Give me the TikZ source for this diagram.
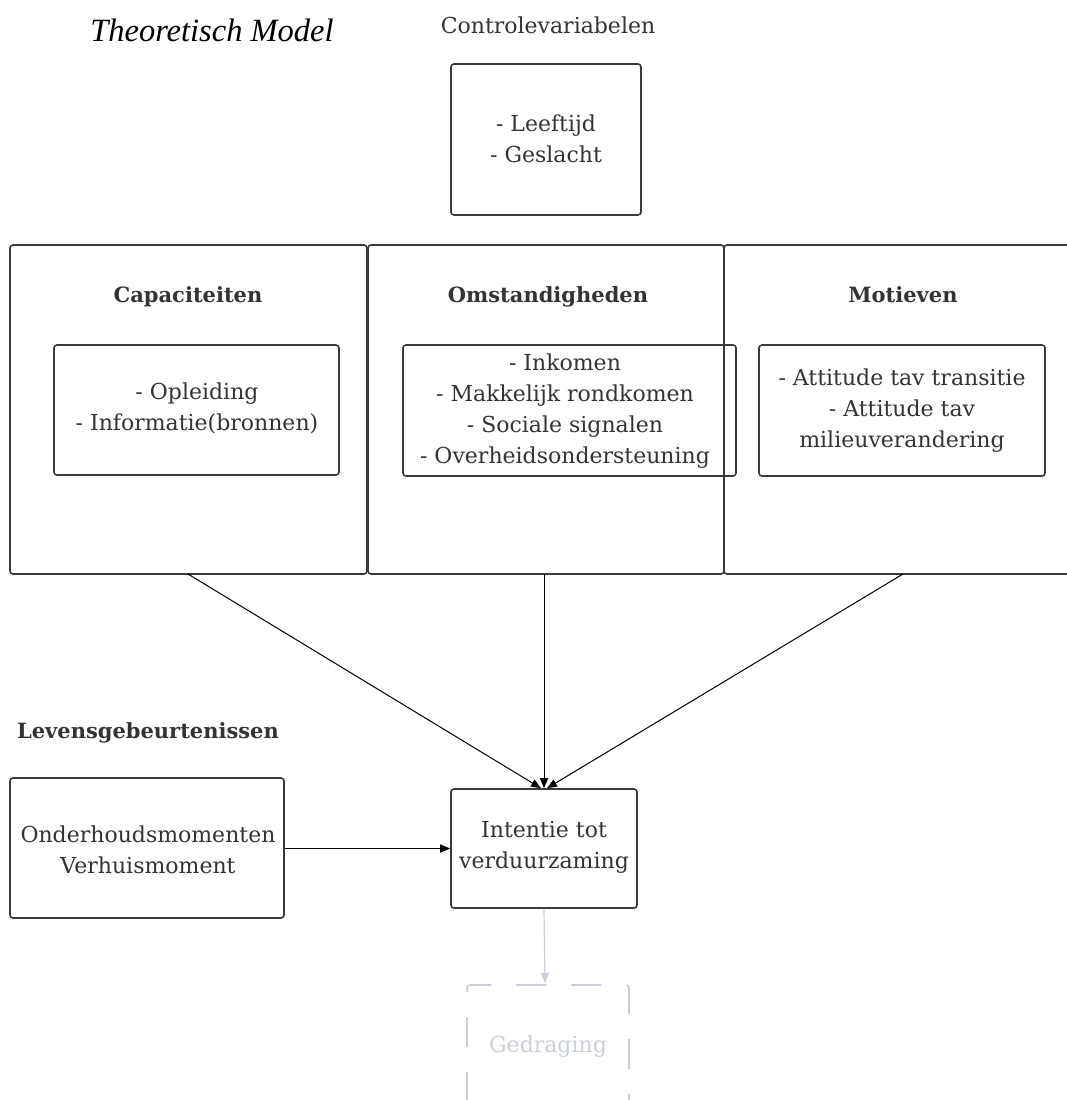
\documentclass[tikz,border=0pt]{standalone}
\usepackage{fontspec}
\setmainfont{DejaVu Serif}
\newfontfamily\titlefont{Liberation Serif}
\usetikzlibrary{arrows.meta}
\definecolor{boxline}{HTML}{3A3A3A}
\definecolor{txt}{HTML}{333333}
\definecolor{faint}{HTML}{C9CED8}
\begin{document}
\begin{tikzpicture}[x=1pt,y=-1pt,
  box/.style={draw=boxline,line width=1.6pt,rounded corners=3pt,inner sep=0pt},
  txtstyle/.style={text=txt,font=\fontsize{22}{31}\selectfont,align=center},
  head/.style={text=txt,font=\fontsize{21}{26}\selectfont\bfseries,text height=15pt,text depth=5pt},
  arr/.style={-{Triangle[length=10pt,width=8pt]},line width=1pt,black}]
\useasboundingbox (0,0) rectangle (1067,1100);
\clip (0,0) rectangle (1067,1100);
% title
\node[font=\fontsize{32.5}{36}\selectfont\titlefont\itshape] (title) at (212,30) {Theoretisch Model};
\node[txtstyle] (ctrlhead) at (548,25) {Controlevariabelen};
\draw[box] (451,64) rectangle (641,215);
\node[txtstyle] (ctrl) at (546,139) {- Leeftijd\\- Geslacht};
% big boxes
\draw[box] (10,245) rectangle (367,574);
\draw[box] (368,245) rectangle (724,574);
\draw[box] (724,245) rectangle (1085,574);
\coordinate (capb) at (188,574);
\coordinate (omsb) at (544,574);
\coordinate (motb) at (903,574);
\node[head] (caph) at (188,297) {Capaciteiten};
\node[head] (omsh) at (548,297) {Omstandigheden};
\node[head] (moth) at (903,297) {Motieven};
\draw[box] (54,345) rectangle (339,475);
\node[txtstyle] (capt) at (197,408) {- Opleiding\\- Informatie(bronnen)};
\draw[box] (403,345) rectangle (736,476);
\node[txtstyle] (omst) at (565,411) {- Inkomen\\- Makkelijk rondkomen\\- Sociale signalen\\- Overheidsondersteuning};
\draw[box] (759,345) rectangle (1045,476);
\node[txtstyle] (mott) at (902,411) {- Attitude tav transitie\\- Attitude tav\\milieuverandering};
% life events
\node[head] (levh) at (148,733) {Levensgebeurtenissen};
\node[box,minimum width=274pt,minimum height=140pt] (lev) at (147,848) {};
\node[txtstyle] (levt) at (148,850) {Onderhoudsmomenten\\Verhuismoment};
\node[box,minimum width=186pt,minimum height=119pt] (int) at (544,848.5) {};
\node[txtstyle] (intt) at (544,847) {Intentie tot\\verduurzaming};
% arrows
\draw[arr] (capb) -- ([xshift=-3pt]int.north);
\draw[arr] (omsb) -- (int.north);
\draw[arr] (motb) -- ([xshift=3pt]int.north);
\draw[arr] (lev.east |- int.west) -- (int.west);
% behaviour (faint)
\draw[faint,line width=1.6pt,rounded corners=3pt,dash pattern=on 30pt off 25pt,dash phase=-8pt] (467,1110) -- (467,985) -- (629,985) -- (629,1110);
\coordinate (gedtop) at (545,983);
\node[text=faint,font=\fontsize{22}{26}\selectfont] (ged) at (548,1047) {Gedraging};
\draw[faint,line width=1.2pt,-{Triangle[length=10pt,width=8pt]}] (int.south) -- (gedtop);
\end{tikzpicture}
\end{document}
